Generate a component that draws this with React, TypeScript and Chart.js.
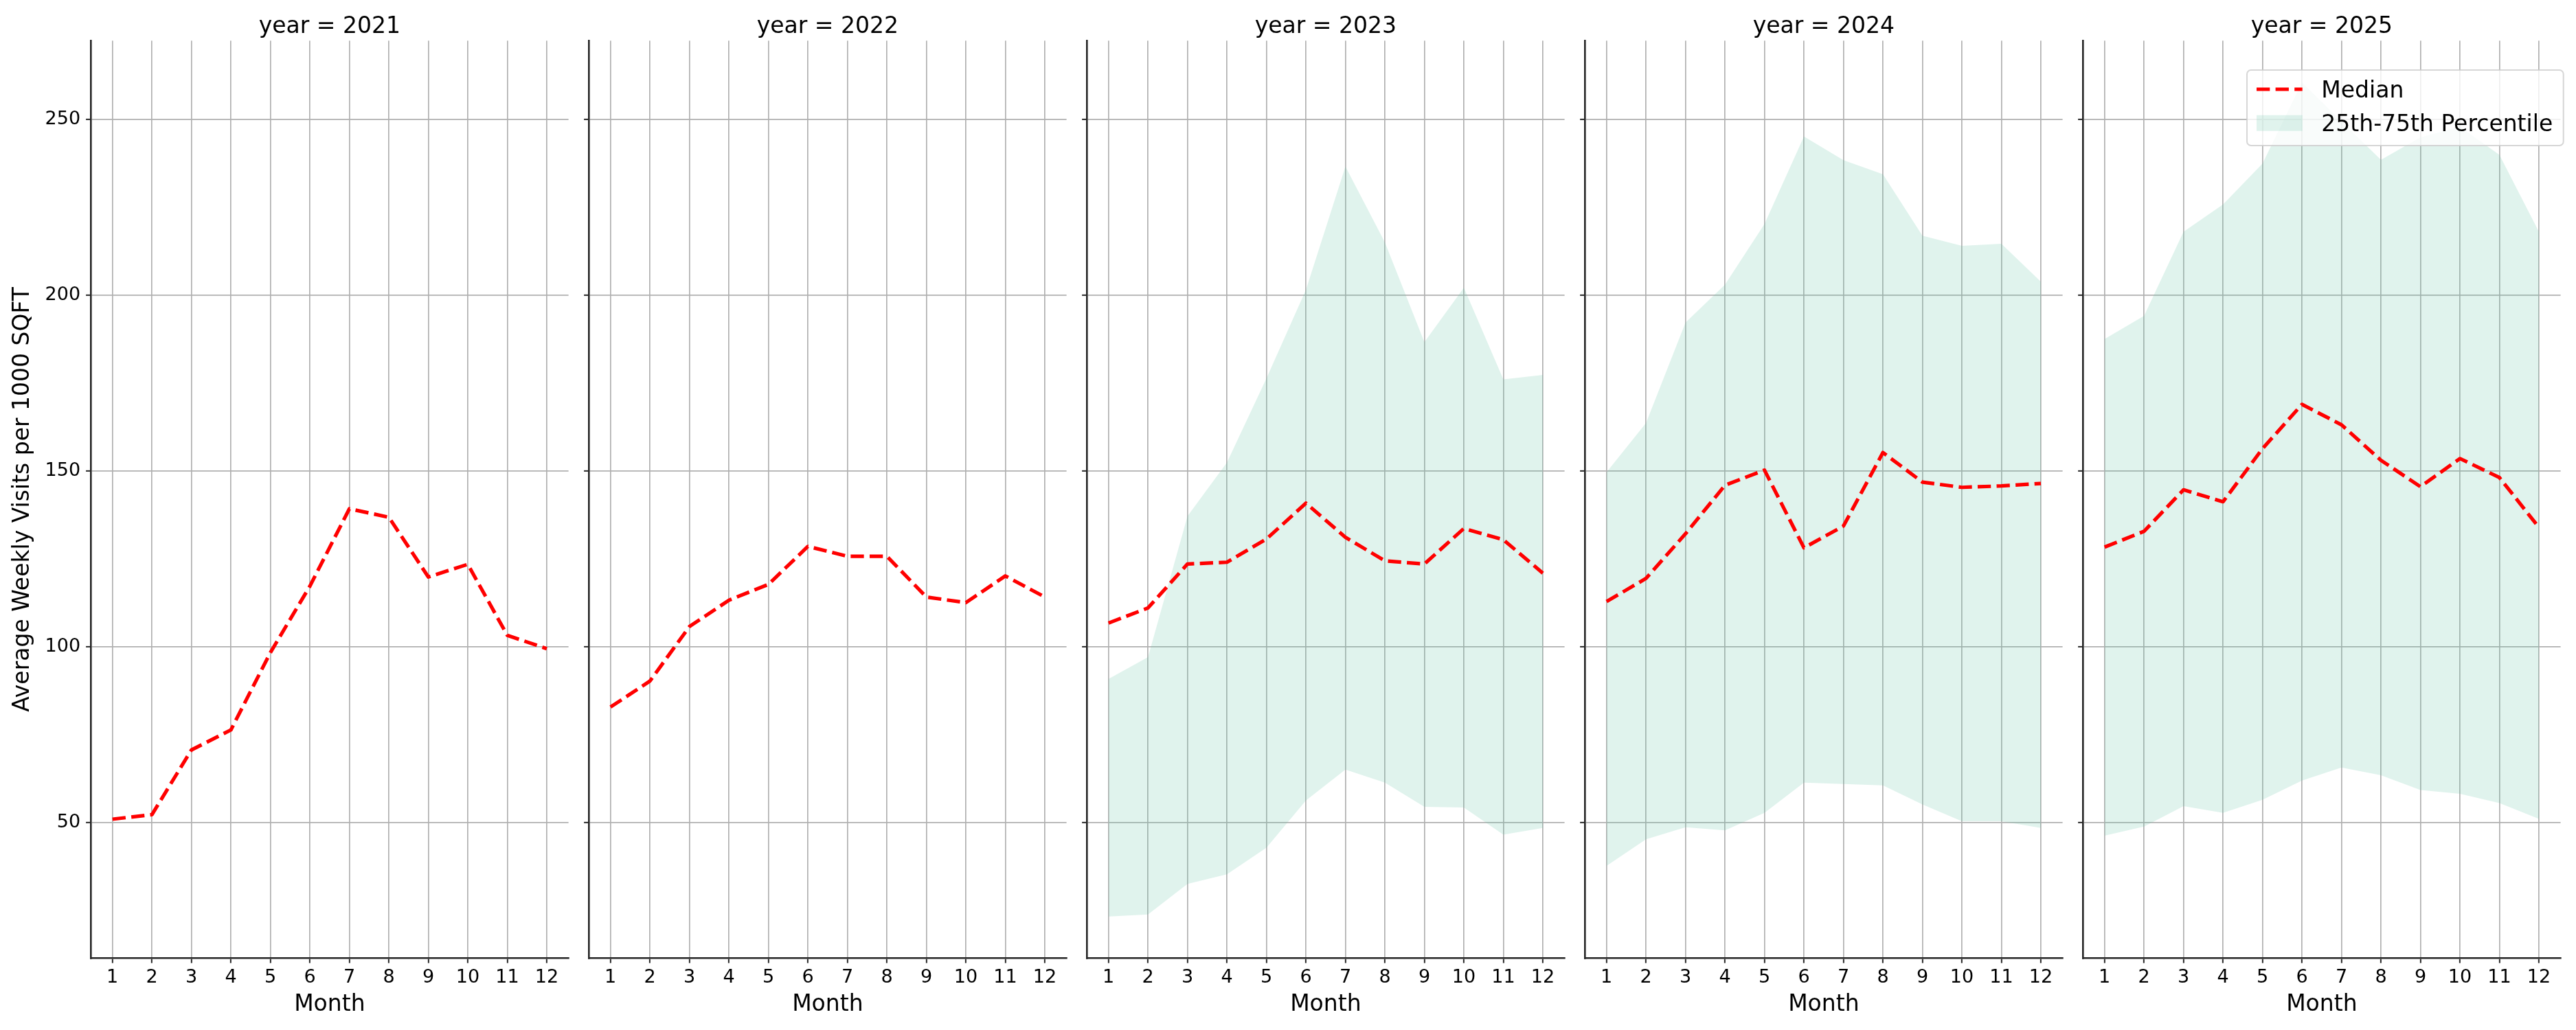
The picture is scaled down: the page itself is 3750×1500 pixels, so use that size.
import React, { useEffect, useRef } from "react";
import { Chart, registerables } from "chart.js";

Chart.register(...registerables);

// ---------------- data ----------------
const months = [1, 2, 3, 4, 5, 6, 7, 8, 9, 10, 11, 12];
const years = [2021, 2022, 2023, 2024, 2025];

const median2021 = [51.0, 52.3, 70.7, 76.4, 98.4, 117.3, 139.3, 136.9, 119.9, 123.5, 103.3, 99.5];
const median2022 = [82.9, 90.3, 105.8, 113.3, 117.8, 128.6, 125.8, 125.8, 114.2, 112.6, 120.2, 114.2];
const median2023 = [106.8, 111.1, 123.6, 124.1, 130.7, 140.9, 131.2, 124.5, 123.6, 133.7, 130.5, 121.0];
const median2024 = [112.9, 119.5, 132.2, 146.0, 150.3, 128.2, 134.4, 155.3, 146.9, 145.4, 145.8, 146.5];
const median2025 = [128.4, 132.9, 144.7, 141.3, 156.4, 169.0, 163.2, 153.1, 145.6, 153.6, 148.2, 134.0];

const p75_2023 = [90.9, 97.1, 137.2, 152.5, 176.4, 201.6, 236.7, 215.1, 186.7, 202.2, 176.1, 177.4];
const p25_2023 = [23.3, 23.9, 32.6, 35.3, 42.9, 56.3, 65.1, 61.4, 54.5, 54.3, 46.6, 48.5];
const p75_2024 = [149.7, 163.7, 192.3, 203.1, 220.3, 245.2, 238.5, 234.5, 217.0, 214.1, 214.7, 203.9];
const p25_2024 = [37.7, 45.3, 48.7, 47.8, 52.8, 61.4, 61.0, 60.6, 55.2, 50.4, 50.4, 48.5];
const p75_2025 = [187.6, 194.2, 218.1, 225.9, 237.5, 260.6, 249.5, 238.6, 245.0, 248.0, 240.0, 218.1];
const p25_2025 = [46.3, 48.9, 54.7, 52.8, 56.5, 62.0, 65.7, 63.5, 59.3, 58.2, 55.6, 51.1];

const yTickStep = 50;
const xLabel = "Month";
const yLabel = "Average Weekly Visits per 1000 SQFT";
const legendLabels = ["Median", "25th-75th Percentile"];

type PanelData = { year: number; median: number[]; p25: number[] | null; p75: number[] | null };
const panels: PanelData[] = [
  { year: years[0], median: median2021, p25: null, p75: null },
  { year: years[1], median: median2022, p25: null, p75: null },
  { year: years[2], median: median2023, p25: p25_2023, p75: p75_2023 },
  { year: years[3], median: median2024, p25: p25_2024, p75: p75_2024 },
  { year: years[4], median: median2025, p25: p25_2025, p75: p75_2025 },
];

// shared y limits with matplotlib-like 5% margins
const allValues: number[] = [];
panels.forEach((p) => {
  allValues.push(...p.median);
  if (p.p25) allValues.push(...p.p25);
  if (p.p75) allValues.push(...p.p75);
});
const dMin = Math.min(...allValues);
const dMax = Math.max(...allValues);
const Y_MIN = dMin - 0.05 * (dMax - dMin);
const Y_MAX = dMax + 0.05 * (dMax - dMin);
const xFirst = months[0];
const xLast = months[months.length - 1];
const X_MIN = xFirst - 0.05 * (xLast - xFirst);
const X_MAX = xLast + 0.05 * (xLast - xFirst);

// ---------------- layout / style ----------------
const CANVAS_W = 850;
const CANVAS_H = 1500;
const PANEL_STEP = 725;
const AXIS_LEFT = 132.1;
const PLOT_W = 695.5;
const PLOT_TOP = 59.3;
const PLOT_BOTTOM = 1395.5;

const FONT = '"DejaVu Sans", "Liberation Sans", sans-serif';
const RED = "#ff0000";
const BAND = "rgba(102,194,165,0.2)";
const DARK = "#262626";
const LINE_W = 5.2;
const DASH = [19.3, 8.3];

const titlePlugin = {
  id: "panelTitle",
  afterDraw(chart: any, _args: any, opts: any) {
    const { ctx, chartArea } = chart;
    ctx.save();
    ctx.font = `33px ${FONT}`;
    ctx.fillStyle = "#000";
    ctx.textAlign = "center";
    ctx.textBaseline = "alphabetic";
    ctx.fillText(opts.text, (chartArea.left + chartArea.right) / 2, chartArea.top - 11.3);
    ctx.restore();
  },
};

const boxLegendPlugin = {
  id: "boxLegend",
  afterDraw(chart: any, _args: any, opts: any) {
    if (!opts.show) return;
    const { ctx, chartArea } = chart;
    const left = chartArea.right - 456.6;
    const right = chartArea.right + 4.1;
    const top = chartArea.top + 42.7;
    const bottom = chartArea.top + 152.7;
    ctx.save();
    ctx.beginPath();
    ctx.roundRect(left, top, right - left, bottom - top, 6);
    ctx.fillStyle = "rgba(255,255,255,0.8)";
    ctx.fill();
    ctx.lineWidth = 2;
    ctx.strokeStyle = "rgba(204,204,204,0.8)";
    ctx.stroke();

    // median sample
    ctx.beginPath();
    ctx.setLineDash(DASH);
    ctx.lineCap = "butt";
    ctx.lineWidth = LINE_W;
    ctx.strokeStyle = RED;
    ctx.moveTo(left + 14, top + 28);
    ctx.lineTo(left + 80.7, top + 28);
    ctx.stroke();
    ctx.setLineDash([]);

    // band sample
    ctx.fillStyle = BAND;
    ctx.fillRect(left + 14, top + 65.7, 66.7, 23);

    ctx.font = `33px ${FONT}`;
    ctx.fillStyle = "#000";
    ctx.textAlign = "left";
    ctx.textBaseline = "alphabetic";
    ctx.fillText(opts.labels[0], left + 108.3, top + 39.7);
    ctx.fillText(opts.labels[1], left + 108.3, top + 88.7);
    ctx.restore();
  },
};

function Panel({ panel, index }: { panel: PanelData; index: number }) {
  const ref = useRef<HTMLCanvasElement | null>(null);
  useEffect(() => {
    if (!ref.current) return;
    const first = index === 0;
    const last = index === panels.length - 1;
    const datasets: any[] = [
      {
        label: legendLabels[0],
        data: months.map((m, i) => ({ x: m, y: panel.median[i] })),
        borderColor: RED,
        borderWidth: LINE_W,
        borderDash: DASH,
        borderCapStyle: "butt",
        borderJoinStyle: "round",
        pointRadius: 0,
        pointHoverRadius: 0,
        fill: false,
        tension: 0,
      },
    ];
    if (panel.p75 && panel.p25) {
      datasets.push({
        label: legendLabels[1],
        data: months.map((m, i) => ({ x: m, y: panel.p75![i] })),
        borderColor: "rgba(0,0,0,0)",
        borderWidth: 1,
        backgroundColor: BAND,
        pointRadius: 0,
        pointHoverRadius: 0,
        fill: "+1",
        tension: 0,
      });
      datasets.push({
        label: "p25",
        data: months.map((m, i) => ({ x: m, y: panel.p25![i] })),
        borderColor: "rgba(0,0,0,0)",
        borderWidth: 1,
        pointRadius: 0,
        pointHoverRadius: 0,
        fill: false,
        tension: 0,
      });
    }

    const chart = new Chart(ref.current, {
      type: "line",
      data: { datasets },
      plugins: [titlePlugin, boxLegendPlugin],
      options: {
        animation: false,
        responsive: false,
        devicePixelRatio: 1,
        events: [],
        layout: {
          padding: { left: 0, right: CANVAS_W - AXIS_LEFT - PLOT_W, top: PLOT_TOP, bottom: 0 },
        },
        plugins: {
          legend: { display: false },
          tooltip: { enabled: false },
          title: { display: false },
          panelTitle: { text: `year = ${panel.year}` },
          boxLegend: { show: last, labels: legendLabels },
        } as any,
        scales: {
          x: {
            type: "linear",
            min: X_MIN,
            max: X_MAX,
            afterFit: (s: any) => {
              s.height = CANVAS_H - PLOT_BOTTOM;
            },
            ticks: {
              stepSize: 1,
              includeBounds: false,
              autoSkip: false,
              maxRotation: 0,
              padding: 5,
              color: "#000",
              font: { family: FONT, size: 27 },
            },
            grid: {
              color: "#b0b0b0",
              lineWidth: 1.7,
              drawTicks: true,
              tickLength: 7,
              tickColor: DARK,
              tickWidth: 2,
            },
            border: { display: true, color: DARK, width: 2.6 },
            title: {
              display: true,
              text: xLabel,
              color: "#000",
              font: { family: FONT, size: 33 },
              padding: { top: 0, bottom: 17 },
            },
          },
          y: {
            type: "linear",
            min: Y_MIN,
            max: Y_MAX,
            afterFit: (s: any) => {
              s.width = AXIS_LEFT;
            },
            ticks: {
              stepSize: yTickStep,
              includeBounds: false,
              display: first,
              padding: 8,
              color: "#000",
              font: { family: FONT, size: 27 },
            },
            grid: {
              color: "#b0b0b0",
              lineWidth: 1.7,
              drawTicks: true,
              tickLength: 7,
              tickColor: DARK,
              tickWidth: 2,
            },
            border: { display: true, color: DARK, width: 2.6 },
            title: {
              display: first,
              text: yLabel,
              color: "#000",
              font: { family: FONT, size: 33 },
              padding: { top: 14, bottom: 0 },
            },
          },
        },
      } as any,
    });
    return () => chart.destroy();
  }, [panel, index]);

  return (
    <canvas
      ref={ref}
      width={CANVAS_W}
      height={CANVAS_H}
      style={{ position: "absolute", left: PANEL_STEP * index, top: 0, width: CANVAS_W, height: CANVAS_H }}
    />
  );
}

export default function App() {
  return (
    <div
      style={{
        position: "fixed",
        left: 0,
        top: 0,
        width: 3750,
        height: 1500,
        background: "#ffffff",
        overflow: "hidden",
      }}
    >
      {panels.map((p, i) => (
        <Panel key={p.year} panel={p} index={i} />
      ))}
    </div>
  );
}
